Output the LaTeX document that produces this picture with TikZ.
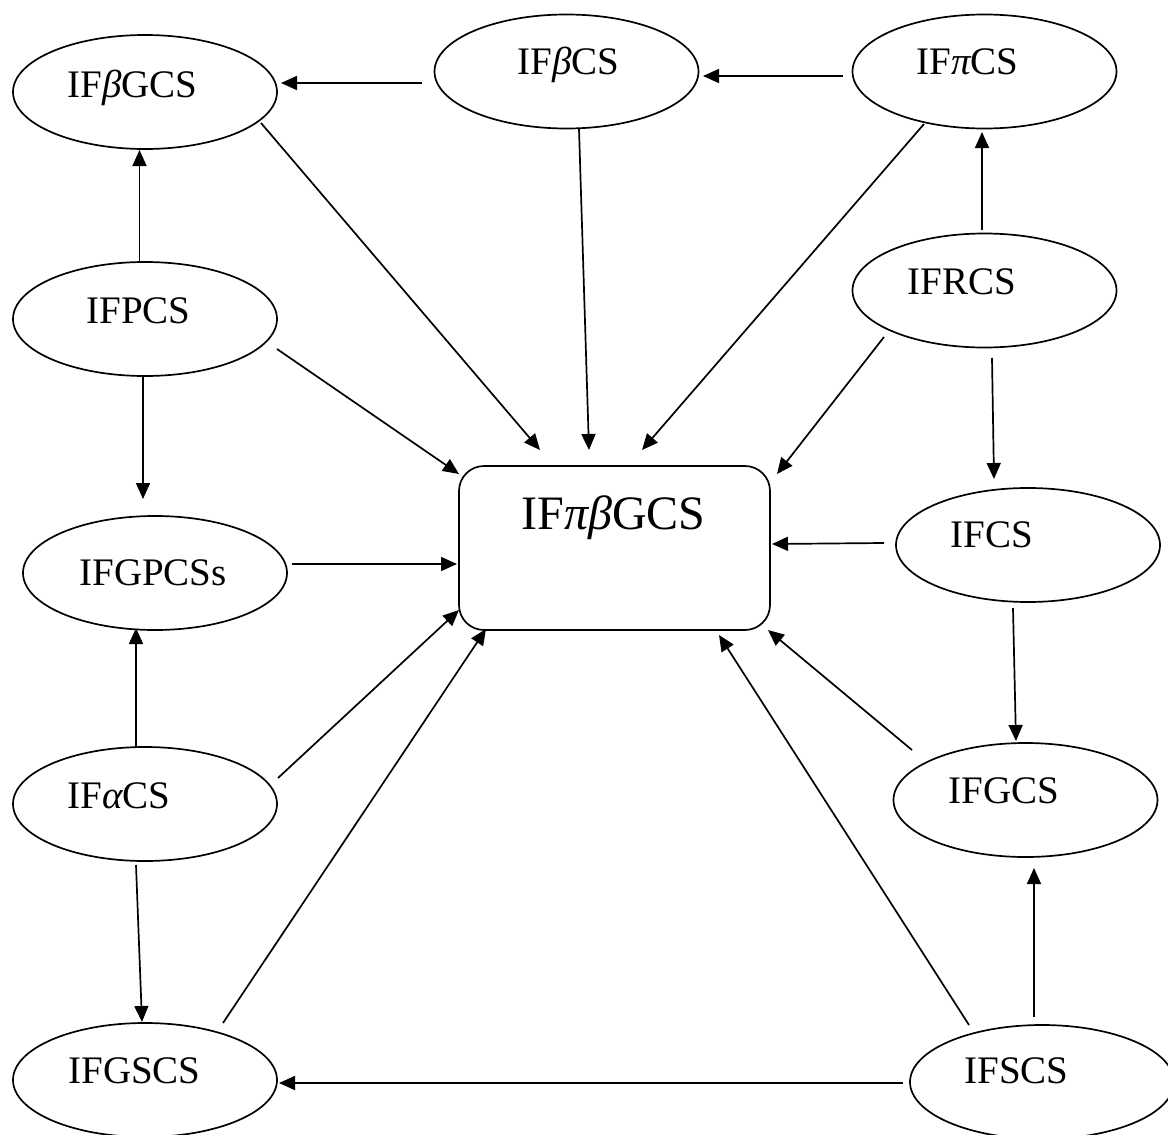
\documentclass[tikz,border=0pt]{standalone}
\usepackage{fontspec}
\setmainfont{Liberation Serif}
\usetikzlibrary{shapes.geometric,arrows.meta}
\newcommand{\gk}[1]{{\itshape #1}}
\begin{document}
\begin{tikzpicture}[x=0.5pt,y=-0.5pt,
  ell/.style={draw,ellipse,line width=0.85pt,minimum width=132pt,minimum height=57pt,inner sep=0pt},
  lbl/.style={anchor=base west,inner sep=0pt,font=\fontsize{19.5}{22}\selectfont},
  hub/.style={draw,rounded corners=12.5pt,line width=0.85pt,minimum width=155.5pt,minimum height=82pt,inner sep=0pt},
  hubtext/.style={anchor=base,inner sep=0pt,font=\fontsize{24}{28}\selectfont},
  conn/.style={line width=0.85pt,-{Triangle[length=8pt,width=7pt]}}]
\useasboundingbox (0,0) rectangle (1168,1135);

% ellipses
\node[ell] (bgcs)  at (145,92) {};
\node[ell] (bcs)   at (566.5,71.5) {};
\node[ell] (picsn) at (984.5,71.5) {};
\node[ell] (rcs)   at (984.5,290.5) {};
\node[ell] (pcs)   at (145,319) {};
\node[ell] (gpcs)  at (155,573) {};
\node[ell] (cs)    at (1028,545) {};
\node[ell] (acs)   at (145,804) {};
\node[ell] (gcs)   at (1025.5,800) {};
\node[ell] (gscs)  at (145,1080) {};
\node[ell] (scs)   at (1042,1082) {};
\node[hub] (main)  at (614.5,548) {};

% labels
\node[lbl] (tbgcs)  at (67,97)   {IF\gk{β}GCS};
\node[lbl] (tbcs)   at (517,75)  {IF\gk{β}CS};
\node[lbl] (tpicsn) at (916,75)  {IF\gk{π}CS};
\node[lbl] (trcs)   at (907,294) {IFRCS};
\node[lbl] (tpcs)   at (86,323)  {IFPCS};
\node[lbl] (tgpcs)  at (79,585)  {IFGPCSs};
\node[lbl] (tcs)    at (950,547) {IFCS};
\node[lbl] (tacs)   at (67,808)  {IF\gk{α}CS};
\node[lbl] (tgcs)   at (948,803) {IFGCS};
\node[lbl] (tgscs)  at (68,1083) {IFGSCS};
\node[lbl] (tscs)   at (964,1083){IFSCS};
\node[hubtext] (tmain) at (613.5,529) {IF\gk{πβ}GCS};

% connectors between ellipses
\draw[conn] ([shift={(-5.5,-57)}]pcs.center)   -- ([shift={(-5.5,58)}]bgcs.center);
\draw[conn] ([shift={(-144.5,11.5)}]bcs.center) -- ([shift={(136,-9)}]bgcs.center);
\draw[conn] ([shift={(-141.5,4.5)}]picsn.center) -- ([shift={(136.5,4.5)}]bcs.center);
\draw[conn] ([shift={(-2.5,-60.5)}]rcs.center) -- ([shift={(-2.5,60.5)}]picsn.center);
\draw[conn] ([shift={(-2,58)}]pcs.center)      -- ([shift={(-12,-74)}]gpcs.center);
\draw[conn] ([shift={(-9,-57)}]acs.center)     -- ([shift={(-19,55)}]gpcs.center);
\draw[conn] ([shift={(7.5,67.5)}]rcs.center)   -- ([shift={(-34,-66)}]cs.center);
\draw[conn] ([shift={(-15,63)}]cs.center)      -- ([shift={(-9.5,-59)}]gcs.center);
\draw[conn] ([shift={(-9,61)}]acs.center)      -- ([shift={(-3,-58)}]gscs.center);
\draw[conn] ([shift={(-8,-65)}]scs.center)     -- ([shift={(8.5,68)}]gcs.center);
\draw[conn] ([shift={(-139,1)}]scs.center)     -- ([shift={(134,3)}]gscs.center);

% connectors into the hub
\draw[conn] ([shift={(116,31)}]bgcs.center)     -- ([shift={(-74.5,-98)}]main.center);
\draw[conn] ([shift={(12.5,57.5)}]bcs.center)   -- ([shift={(-25.5,-98)}]main.center);
\draw[conn] ([shift={(-60.5,52.5)}]picsn.center) -- ([shift={(27.5,-98)}]main.center);
\draw[conn] ([shift={(-100.5,46.5)}]rcs.center) -- ([shift={(162.5,-74)}]main.center);
\draw[conn] ([shift={(132,30)}]pcs.center)      -- ([shift={(-155.5,-74)}]main.center);
\draw[conn] ([shift={(137,-9)}]gpcs.center)     -- ([shift={(-157.5,16)}]main.center);
\draw[conn] ([shift={(-144,-2)}]cs.center)      -- ([shift={(157.5,-4)}]main.center);
\draw[conn] ([shift={(133,-26)}]acs.center)     -- ([shift={(-155.5,62)}]main.center);
\draw[conn] ([shift={(78,-57)}]gscs.center)     -- ([shift={(-128.5,81)}]main.center);
\draw[conn] ([shift={(-73,-57)}]scs.center)     -- ([shift={(104.5,87)}]main.center);
\draw[conn] ([shift={(-113.5,-50)}]gcs.center)  -- ([shift={(153.5,82)}]main.center);
\end{tikzpicture}
\end{document}
